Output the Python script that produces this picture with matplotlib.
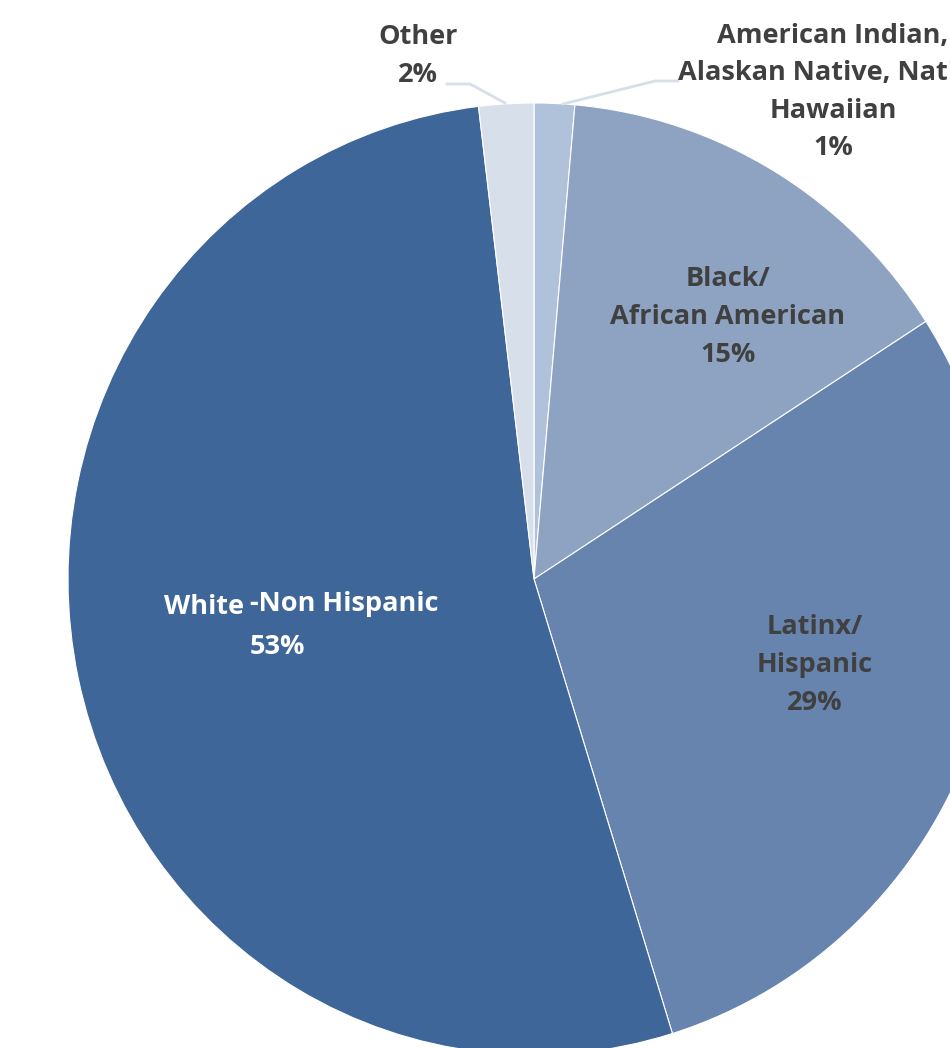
import matplotlib.pyplot as plt

# slice shares, clockwise from 12 o'clock
groups = ["American Indian", "Black", "Latinx", "White", "Other"]
shares = [1.4, 14.5, 29.3, 52.9, 1.9]
colors = ["#b0c2da", "#8da3c1", "#6684ad", "#3f6698", "#d7e0ea"]

W, H = 950, 1048
fig = plt.figure(figsize=(W / 100, H / 100), dpi=100)

# the pie in the reference is slightly taller than wide, so give it its own
# axes box (pixel centre 534,579; half-width 466, half-height 476)
cx, cy, rx, ry = 534, 579, 466, 476
pax = fig.add_axes([(cx - rx) / W, (H - cy - ry) / H, 2 * rx / W, 2 * ry / H])
pax.pie(shares, colors=colors, startangle=90, counterclock=False,
        radius=1, frame=True,
        wedgeprops=dict(edgecolor="white", linewidth=0.8))
pax.set_aspect("auto")
pax.set_xlim(-1, 1)
pax.set_ylim(-1, 1)
pax.axis("off")

# overlay for labels, in pixel coordinates
ax = fig.add_axes([0, 0, 1, 1])
ax.set_xlim(0, W)
ax.set_ylim(H, 0)
ax.axis("off")

dark = "#404040"
font = dict(family="Open Sans", fontweight="bold", fontsize=19.5)
ls = 1.58

ax.text(418, 56, "Other\n2%", color=dark, ha="center", va="center",
        linespacing=ls, **font)
ax.text(833, 92, "American Indian,\nAlaskan Native, Native\nHawaiian\n1%",
        color=dark, ha="center", va="center", linespacing=ls, **font)
ax.text(728, 317, "Black/\nAfrican American\n15%", color=dark, ha="center",
        va="center", linespacing=ls, **font)
ax.text(815, 665, "Latinx/\nHispanic\n29%", color=dark, ha="center",
        va="center", linespacing=ls, **font)
ax.text(204, 607, "White", color="white", ha="center", va="center", **font)
ax.text(250, 604, "-Non Hispanic", color="white", ha="left", va="center", **font)
ax.text(250, 647, "53%", color="white", ha="left", va="center", **font)

# leader lines
lc = "#d6dfea"
ax.plot([447, 470, 505], [84, 84, 103], color=lc, lw=2)
ax.plot([678, 655, 563], [81, 81, 104], color=lc, lw=2)

fig.savefig("out.png", dpi=100)
